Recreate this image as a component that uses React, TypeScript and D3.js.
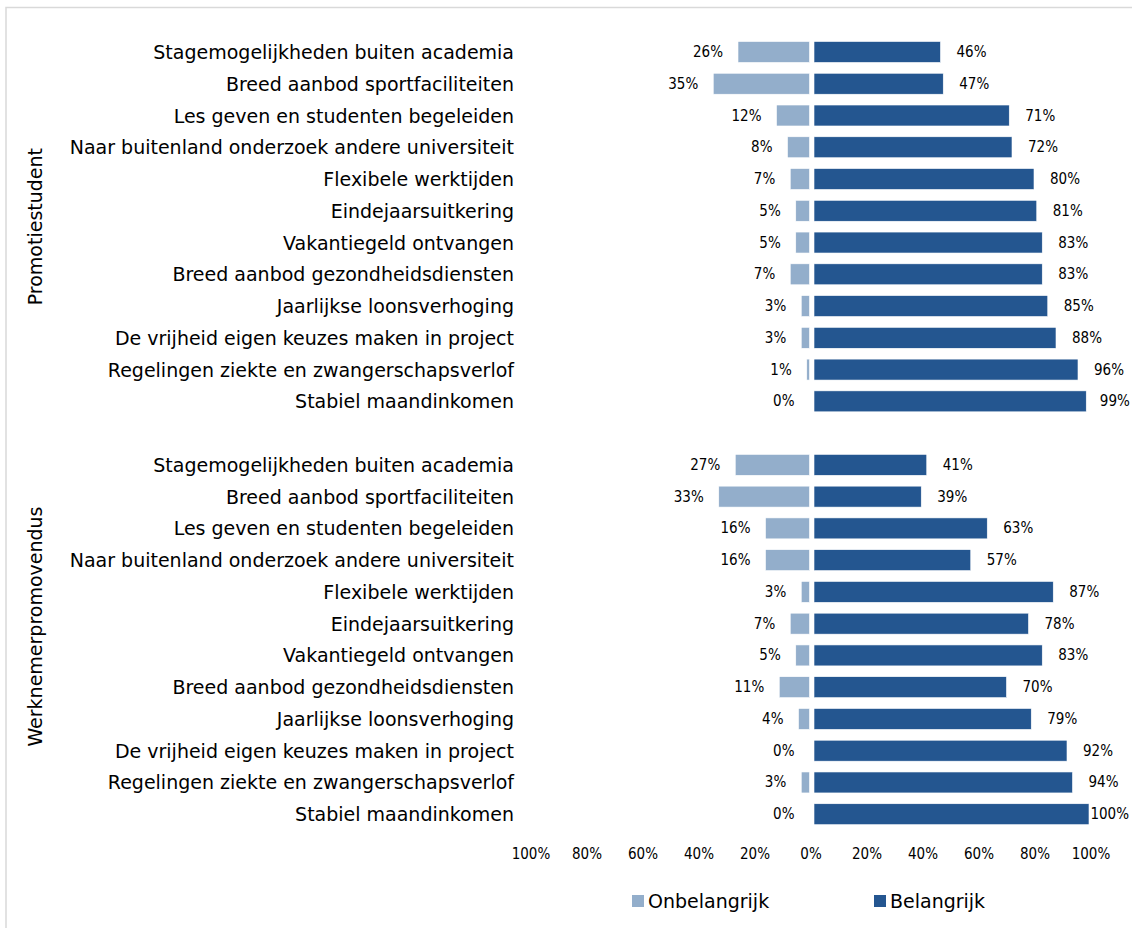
import React from "react";
import * as d3 from "d3";

const categories = [
  "Stagemogelijkheden buiten academia",
  "Breed aanbod sportfaciliteiten",
  "Les geven en studenten begeleiden",
  "Naar buitenland onderzoek andere universiteit",
  "Flexibele werktijden",
  "Eindejaarsuitkering",
  "Vakantiegeld ontvangen",
  "Breed aanbod gezondheidsdiensten",
  "Jaarlijkse loonsverhoging",
  "De vrijheid eigen keuzes maken in project",
  "Regelingen ziekte en zwangerschapsverlof",
  "Stabiel maandinkomen",
];
const groups = ["Promotiestudent", "Werknemerpromovendus"];
const promoOnbelangrijk = [26, 35, 12, 8, 7, 5, 5, 7, 3, 3, 1, 0];
const promoBelangrijk = [46, 47, 71, 72, 80, 81, 83, 83, 85, 88, 96, 99];
const werkOnbelangrijk = [27, 33, 16, 16, 3, 7, 5, 11, 4, 0, 3, 0];
const werkBelangrijk = [41, 39, 63, 57, 87, 78, 83, 70, 79, 92, 94, 100];
const axisTicks = [-100, -80, -60, -40, -20, 0, 20, 40, 60, 80, 100];
const seriesNames = ["Onbelangrijk", "Belangrijk"];

const LIGHT = "#93AECB";
const DARK = "#245690";
const FONT_WIDE = "'DejaVu Sans', sans-serif";
const FONT_NUM = "'DejaVu Sans Condensed', 'DejaVu Sans', sans-serif";

export default function App() {
  const W = 1132, H = 928;
  const rows: { key: string; label: string; on: number; be: number; g: number }[] = [];
  categories.forEach((c, i) => rows.push({ key: `a${i}`, label: c, on: promoOnbelangrijk[i], be: promoBelangrijk[i], g: 0 }));
  const spacer = "spacer";
  categories.forEach((c, i) => rows.push({ key: `b${i}`, label: c, on: werkOnbelangrijk[i], be: werkBelangrijk[i], g: 1 }));
  const domain = [...rows.slice(0, 12).map((r) => r.key), spacer, ...rows.slice(12).map((r) => r.key)];

  const y = d3.scaleBand<string>().domain(domain).range([36.1, 830.1]).paddingInner(0.34).paddingOuter(0.17);
  const xLeft = d3.scaleLinear().domain([0, 100]).range([809.5, 534.5]);
  const xRight = d3.scaleLinear().domain([0, 100]).range([814, 1089]);
  const xAxis = d3.scaleLinear().domain([-100, 100]).range([531, 1091]);

  const bw = y.bandwidth();
  const center = (k: string) => (y(k) ?? 0) + bw / 2;
  const groupCenter = (g: number) => {
    const ks = rows.filter((r) => r.g === g).map((r) => r.key);
    return (center(ks[0]) + center(ks[ks.length - 1])) / 2;
  };
  const labelRightLimit = 1128;
  const estWidth = (s: string) => s.length * 9.4;

  return (
    <svg width={W} height={H} style={{ position: "absolute", left: 0, top: 0, background: "#fff" }}>
      <rect x={0} y={0} width={W} height={H} fill="#fff" />
      <rect x={6} y={7.5} width={W + 10} height={H + 10} fill="none" stroke="#D9D9D9" strokeWidth={1.5} />
      {rows.map((r) => {
        const cy = center(r.key);
        const beLabel = `${r.be}%`;
        const beX = Math.min(xRight(r.be) + 16, labelRightLimit - estWidth(beLabel));
        return (
          <g key={r.key}>
            <text x={514} y={cy} textAnchor="end" dominantBaseline="central" fontSize={19} fontFamily={FONT_WIDE} fill="#000">
              {r.label}
            </text>
            {r.on > 0 && (
              <rect x={xLeft(r.on)} y={y(r.key)} width={xLeft(0) - xLeft(r.on)} height={bw} fill={LIGHT} stroke="#fff" strokeWidth={0.6} />
            )}
            <rect x={xRight(0)} y={y(r.key)} width={xRight(r.be) - xRight(0)} height={bw} fill={DARK} stroke="#fff" strokeWidth={0.6} />
            <text x={xLeft(r.on) - 15} y={cy} textAnchor="end" dominantBaseline="central" fontSize={15} fontFamily={FONT_NUM} fill="#000">
              {r.on}%
            </text>
            <text x={beX} y={cy} textAnchor="start" dominantBaseline="central" fontSize={15} fontFamily={FONT_NUM} fill="#000">
              {beLabel}
            </text>
          </g>
        );
      })}
      {groups.map((g, i) => (
        <text key={g} transform={`translate(35, ${groupCenter(i) - (i === 1 ? 13 : 0)}) rotate(-90)`} textAnchor="middle" dominantBaseline="central" fontSize={19} fontFamily={FONT_WIDE} fill="#000">
          {g}
        </text>
      ))}
      {axisTicks.map((t) => (
        <text key={t} x={xAxis(t)} y={854} textAnchor="middle" dominantBaseline="central" fontSize={15} fontFamily={FONT_NUM} fill="#000">
          {Math.abs(t)}%
        </text>
      ))}
      {seriesNames.map((s, i) => {
        const lx = i === 0 ? 632 : 874;
        return (
          <g key={s}>
            <rect x={lx} y={895} width={12} height={12} fill={i === 0 ? LIGHT : DARK} />
            <text x={lx + 16} y={901} dominantBaseline="central" fontSize={19} fontFamily={FONT_WIDE} fill="#000">
              {s}
            </text>
          </g>
        );
      })}
    </svg>
  );
}
